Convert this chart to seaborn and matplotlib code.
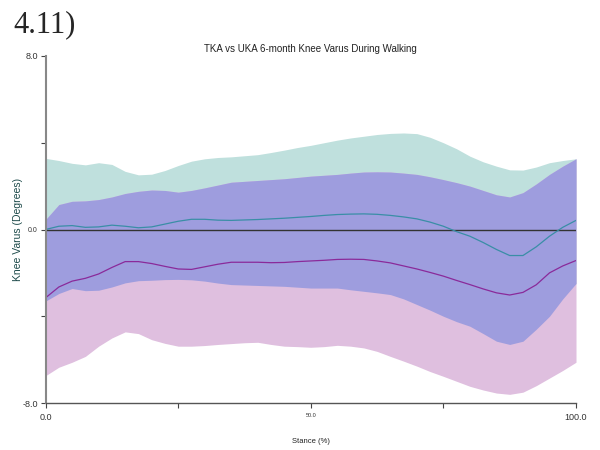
import numpy as np
import pandas as pd
import seaborn as sns
import matplotlib.pyplot as plt

# -------------------------------------------------
# Data
# -------------------------------------------------

stance = [0, 2.5, 5, 7.5, 10, 12.5, 15, 17.5, 20, 22.5, 25, 27.5, 30, 32.5,
          35, 37.5, 40, 42.5, 45, 47.5, 50, 52.5, 55, 57.5, 60, 62.5, 65,
          67.5, 70, 72.5, 75, 77.5, 80, 82.5, 85, 87.5, 90, 92.5, 95, 97.5, 100]

tka_mean = [0.0, 0.15, 0.18, 0.10, 0.12, 0.20, 0.15, 0.08, 0.12, 0.25, 0.38,
            0.47, 0.47, 0.43, 0.42, 0.44, 0.46, 0.49, 0.52, 0.56, 0.60, 0.65,
            0.69, 0.71, 0.72, 0.70, 0.65, 0.58, 0.49, 0.34, 0.15, -0.10,
            -0.31, -0.60, -0.92, -1.20, -1.20, -0.80, -0.31, 0.10, 0.42]
tka_upper = [3.28, 3.18, 3.05, 2.98, 3.08, 3.00, 2.68, 2.52, 2.55, 2.72, 2.95,
             3.15, 3.26, 3.32, 3.35, 3.40, 3.45, 3.55, 3.66, 3.78, 3.88, 4.00,
             4.12, 4.22, 4.30, 4.38, 4.43, 4.45, 4.42, 4.25, 4.00, 3.72, 3.38,
             3.12, 2.92, 2.75, 2.74, 2.88, 3.08, 3.18, 3.26]
tka_lower = [-3.30, -2.95, -2.72, -2.82, -2.80, -2.65, -2.46, -2.36, -2.34,
             -2.31, -2.30, -2.32, -2.38, -2.47, -2.54, -2.56, -2.58, -2.60,
             -2.62, -2.66, -2.70, -2.70, -2.70, -2.78, -2.85, -2.92, -3.00,
             -3.20, -3.46, -3.72, -4.00, -4.25, -4.46, -4.80, -5.15, -5.30,
             -5.15, -4.60, -4.00, -3.20, -2.49]

uka_mean = [-3.15, -2.65, -2.38, -2.25, -2.05, -1.75, -1.48, -1.48, -1.57,
            -1.70, -1.82, -1.84, -1.72, -1.60, -1.51, -1.51, -1.51, -1.53,
            -1.52, -1.48, -1.45, -1.42, -1.38, -1.37, -1.38, -1.45, -1.54,
            -1.68, -1.82, -1.98, -2.15, -2.35, -2.54, -2.74, -2.92, -3.02,
            -2.90, -2.55, -2.00, -1.68, -1.43]
uka_upper = [0.46, 1.15, 1.30, 1.32, 1.38, 1.50, 1.66, 1.76, 1.82, 1.80, 1.72,
             1.80, 1.92, 2.05, 2.18, 2.22, 2.26, 2.30, 2.34, 2.40, 2.46, 2.50,
             2.54, 2.60, 2.65, 2.66, 2.65, 2.60, 2.54, 2.43, 2.30, 2.16, 2.00,
             1.80, 1.60, 1.50, 1.70, 2.10, 2.54, 2.92, 3.26]
uka_lower = [-6.74, -6.35, -6.12, -5.85, -5.38, -5.00, -4.72, -4.80, -5.08,
             -5.25, -5.38, -5.38, -5.35, -5.30, -5.26, -5.22, -5.20, -5.30,
             -5.38, -5.40, -5.43, -5.40, -5.34, -5.38, -5.46, -5.62, -5.85,
             -6.07, -6.30, -6.55, -6.77, -7.00, -7.23, -7.40, -7.54, -7.60,
             -7.50, -7.20, -6.85, -6.50, -6.12]

x_ticks = [0, 25, 50, 75, 100]
x_tick_labels = ["0.0", "", "50.0", "", "100.0"]
y_ticks = [-8, -4, 0, 4, 8]
y_tick_labels = ["-8.0", "", "0.0", "", "8.0"]


# -------------------------------------------------
# Plot
# -------------------------------------------------

sns.set_style("white")
plt.rcParams['font.family'] = ['Liberation Sans', 'DejaVu Sans']

df = pd.DataFrame({
    "Stance": stance * 2,
    "Varus": tka_mean + uka_mean,
    "Group": ["TKA"] * len(stance) + ["UKA"] * len(stance),
})

x = np.array(stance)
tka_lo, tka_hi = np.array(tka_lower), np.array(tka_upper)
uka_lo, uka_hi = np.array(uka_lower), np.array(uka_upper)

fig = plt.figure(figsize=(6, 4.5), dpi=100)
ax = fig.add_axes([0.076, 0.1044, 0.884, 0.7712])

# bands: TKA, UKA and their overlap
ax.fill_between(x, tka_lo, tka_hi, color="#bfe0dd", lw=0)
ax.fill_between(x, uka_lo, uka_hi, color="#dfbfdf", lw=0)
ov_lo = np.maximum(tka_lo, uka_lo)
ov_hi = np.minimum(tka_hi, uka_hi)
ax.fill_between(x, ov_lo, ov_hi, where=ov_hi > ov_lo, color="#9e9dde", lw=0)

ax.axhline(0, color="#333333", lw=1)

sns.lineplot(data=df, x="Stance", y="Varus", hue="Group",
             palette={"TKA": "#3a8ea6", "UKA": "#8a2a9a"},
             lw=0.9, legend=False, ax=ax)

ax.set_xlim(0, 100)
ax.set_ylim(-8, 8)

ax.set_xticks(x_ticks)
ax.set_xticklabels(x_tick_labels)
ax.set_yticks(y_ticks)
ax.set_yticklabels(y_tick_labels)

for lbl in ax.get_xticklabels():
    lbl.set_fontsize(4 if lbl.get_text() == "50.0" else 6.5)
for lbl in ax.get_yticklabels():
    lbl.set_fontsize(5 if lbl.get_text() == "0.0" else 6.5)

ax.tick_params(axis="both", direction="out", length=3.5, width=0.8,
               color="#444444", labelcolor="#333333", pad=2,
               bottom=True, left=True)
ax.tick_params(axis="x", pad=4)

for side, spine in ax.spines.items():
    if side == "left":
        spine.set_color("#888888")
        spine.set_linewidth(1.5)
    elif side == "bottom":
        spine.set_color("#555555")
        spine.set_linewidth(1)
    else:
        spine.set_visible(False)

ax.set_title("TKA vs UKA 6-month Knee Varus During Walking",
             fontsize=7, color="#222222", pad=3)
ax.set_xlabel("Stance (%)", fontsize=5.5, color="#222222", labelpad=11)
ax.set_ylabel("Knee Varus (Degrees)", fontsize=7.5, color="#1d4a4a")
ax.yaxis.set_label_coords(-0.043, 0.5)

fig.text(13 / 600, 1 - 32 / 450, "4.11)", fontsize=22,
         family=['Liberation Serif', 'DejaVu Serif'], va="baseline")

plt.savefig("out.png", dpi=100)
plt.close()
